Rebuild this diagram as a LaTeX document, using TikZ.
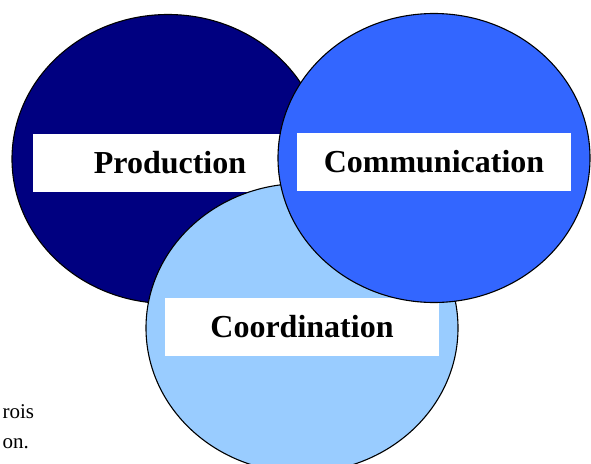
\documentclass[tikz,border=0pt]{standalone}
\usepackage{fontspec}
\setmainfont{Liberation Serif}
\usetikzlibrary{shapes.geometric}
\definecolor{prodnavy}{RGB}{0,0,128}
\definecolor{commblue}{RGB}{51,102,255}
\definecolor{coordsky}{RGB}{153,204,255}
\begin{document}
\begin{tikzpicture}[x=1pt, y=-1pt,
	blob/.style={ellipse, draw=black, line width=1.1pt, inner sep=0pt, minimum width=312pt, minimum height=289pt},
	tag/.style={fill=white, inner sep=0pt, minimum width=274pt, minimum height=58pt, font=\fontsize{32}{36}\selectfont\bfseries}]
			\useasboundingbox (0,0) rectangle (591,463);
			\node[blob, fill=prodnavy] (prod) at (168,159) {};
			\node[tag] (prodtag) at (170,163) {Production};
			\node[blob, fill=coordsky] (coord) at (302,328) {};
			\node[tag] (coordtag) at (302,327) {Coordination};
			\node[blob, fill=commblue] (comm) at (434,158) {};
			\node[tag] (commtag) at (434,162) {Communication};
			\node[anchor=base west, font=\fontsize{21}{24}\selectfont] (rois) at (-1,418) {rois};
			\node[anchor=base west, font=\fontsize{21}{24}\selectfont] (on) at (-1,448) {on.};
		\end{tikzpicture}
\end{document}
